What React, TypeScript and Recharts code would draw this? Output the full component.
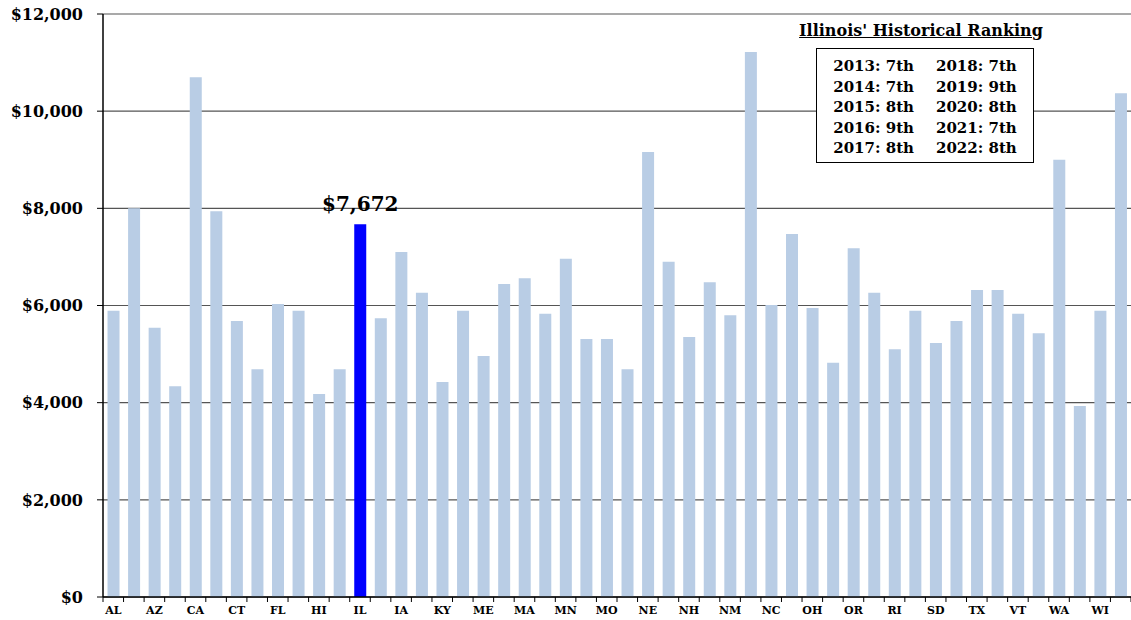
import React from 'react';
import { BarChart, Bar, XAxis, YAxis, CartesianGrid, Cell, LabelList } from 'recharts';

const states = [
  'AL', 'AK', 'AZ', 'AR', 'CA', 'CO', 'CT', 'DE', 'FL', 'GA',
  'HI', 'ID', 'IL', 'IN', 'IA', 'KS', 'KY', 'LA', 'ME', 'MD',
  'MA', 'MI', 'MN', 'MS', 'MO', 'MT', 'NE', 'NV', 'NH', 'NJ',
  'NM', 'NY', 'NC', 'ND', 'OH', 'OK', 'OR', 'PA', 'RI', 'SC',
  'SD', 'TN', 'TX', 'UT', 'VT', 'VA', 'WA', 'WV', 'WI', 'WY',
];

const values = [
  5890, 8000, 5540, 4340, 10700, 7940, 5680, 4690, 6030, 5890,
  4180, 4690, 7672, 5740, 7100, 6260, 4425, 5890, 4960, 6440,
  6560, 5830, 6960, 5310, 5310, 4690, 9160, 6900, 5350, 6480,
  5800, 11220, 6010, 7470, 5950, 4820, 7180, 6260, 5100, 5890,
  5230, 5680, 6320, 6320, 5830, 5430, 9000, 3930, 5890, 10370,
];

const yTicks = [0, 2000, 4000, 6000, 8000, 10000, 12000];

const rankLeft = ['2013: 7th', '2014: 7th', '2015: 8th', '2016: 9th', '2017: 8th'];
const rankRight = ['2018: 7th', '2019: 9th', '2020: 8th', '2021: 7th', '2022: 8th'];

const HIGHLIGHT = 'IL';
const FONT = '"DejaVu Serif", serif';

const W = 1131;
const H = 620;
const LEFT = 103;
const STEP = (W - LEFT) / states.length;

const data = states.map((s, i) => ({ state: s, value: values[i] }));

const money = (v: number) => `$${v.toLocaleString('en-US')}`;

function StateTick(props: any) {
  const { x, y, payload, index } = props;
  const left = x - STEP / 2;
  return (
    <g>
      <line x1={left} x2={left} y1={y} y2={y + 5} stroke="#000" strokeWidth={1} />
      {index === states.length - 1 && (
        <line x1={left + STEP} x2={left + STEP} y1={y} y2={y + 5} stroke="#000" strokeWidth={1} />
      )}
      {index % 2 === 0 && (
        <text x={x} y={y + 17} textAnchor="middle" fontFamily={FONT} fontWeight="bold" fontSize={11} fill="#000">
          {payload.value}
        </text>
      )}
    </g>
  );
}

function ILLabel(props: any) {
  const { x, y, width, index } = props;
  if (states[index] !== HIGHLIGHT) return null;
  return (
    <text x={x + width / 2} y={y - 13} textAnchor="middle" fontFamily={FONT} fontWeight="bold" fontSize={20} fill="#000">
      {money(values[index])}
    </text>
  );
}

export default function App() {
  return (
    <div style={{ position: 'absolute', left: 0, top: 0, width: W, height: H, background: '#fff' }}>
      <BarChart width={W} height={H} data={data} margin={{ top: 14, right: 0, left: 0, bottom: 0 }} barCategoryGap="22%">
        <CartesianGrid vertical={false} stroke="#555" strokeWidth={1.2} />
        <XAxis
          dataKey="state"
          interval={0}
          height={23}
          tickLine={false}
          tickSize={0}
          tickMargin={0}
          axisLine={{ stroke: '#000', strokeWidth: 1.5 }}
          tick={<StateTick />}
        />
        <YAxis
          width={LEFT}
          domain={[0, 12000]}
          ticks={yTicks}
          tickFormatter={money}
          tickSize={6}
          tickMargin={14}
          tickLine={{ stroke: '#000' }}
          axisLine={{ stroke: '#000', strokeWidth: 1.5 }}
          tick={{ fontFamily: FONT, fontWeight: 'bold', fontSize: 16, fill: '#000' }}
        />
        <Bar dataKey="value" fill="#b9cde5" isAnimationActive={false}>
          {data.map((d) => (
            <Cell key={d.state} fill={d.state === HIGHLIGHT ? '#0000ff' : '#b9cde5'} />
          ))}
          <LabelList dataKey="value" content={<ILLabel />} />
        </Bar>
      </BarChart>
      <div
        style={{
          position: 'absolute', left: 790, top: 21, width: 262, textAlign: 'center',
          fontFamily: FONT, fontWeight: 'bold', fontSize: 16, textDecoration: 'underline', color: '#000',
        }}
      >
        Illinois' Historical Ranking
      </div>
      <div
        style={{
          position: 'absolute', left: 816, top: 48, width: 218, height: 115,
          border: '1.5px solid #000', background: '#fff', display: 'flex', justifyContent: 'center', gap: 22,
          fontFamily: FONT, fontWeight: 'bold', fontSize: 15, lineHeight: '20.5px', color: '#000', paddingTop: 7,
          boxSizing: 'border-box',
        }}
      >
        <div>{rankLeft.map((r) => <div key={r}>{r}</div>)}</div>
        <div>{rankRight.map((r) => <div key={r}>{r}</div>)}</div>
      </div>
    </div>
  );
}
